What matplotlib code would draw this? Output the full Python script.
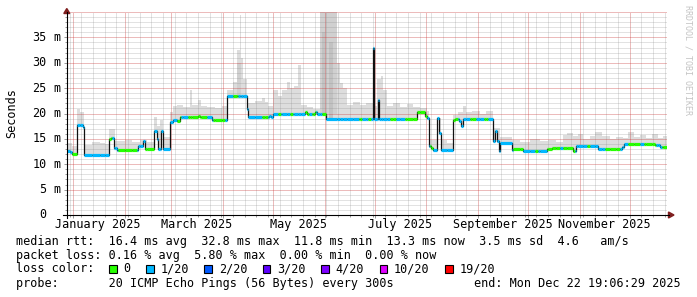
import numpy as np
import pandas as pd
import matplotlib
matplotlib.use("Agg")
import matplotlib.pyplot as plt
import matplotlib.dates as mdates
from matplotlib.ticker import MultipleLocator
from matplotlib.transforms import ScaledTranslation, blended_transform_factory
from matplotlib.patches import Polygon, Rectangle
from matplotlib.lines import Line2D

plt.rcParams['font.family'] = ['DejaVu Sans Mono']

# ---------------- data (days since 2025-01-01, values in ms) ----------------
BASE = pd.Timestamp("2025-01-01")
start_day = -3.6
span_days = 360.0

med_day = [-3.6, -1.8, -0.6, 2.2, 6.0, 6.6, 21.8, 22.8, 24.6, 26.2, 39.2, 42.2, 42.9,
           48.8, 50.2, 51.2, 52.8, 54.2, 58.2, 60.2, 62.2, 64.2, 75.2, 76.2, 83.6, 92.2,
           104.2, 105.2, 117.6, 118.8, 120.2, 139.2, 140.4, 145.2, 146.4, 151.8, 180.0,
           180.6, 183.0, 183.6, 206.2, 211.2, 212.4, 213.6, 214.5, 216.0, 218.4, 219.6,
           220.8, 228.2, 229.2, 231.6, 233.1, 234.0, 251.8, 253.2, 254.4, 255.4, 255.9,
           263.2, 264.0, 270.0, 284.4, 287.4, 300.0, 301.5, 315.0, 329.4, 330.6, 349.2, 352.2]
med_ms = [12.7, 12.4, 12.0, 17.7, 17.3, 11.9, 14.9, 15.2, 13.2, 12.75, 13.5, 14.5, 13.1,
          16.5, 15.0, 13.1, 16.5, 13.1, 18.3, 18.8, 18.5, 19.4, 19.6, 19.4, 18.7, 23.5,
          20.8, 19.4, 19.6, 19.4, 20.0, 20.2, 20.0, 20.3, 20.0, 19.0, 32.9,
          19.0, 22.6, 19.0, 20.3, 19.6, 19.1, 13.5, 13.2, 12.75, 19.2, 16.2,
          12.9, 18.8, 19.0, 18.5, 17.6, 18.9, 14.5, 16.5, 14.5, 12.6, 14.1,
          12.9, 13.0, 12.7, 13.0, 13.2, 12.6, 13.5, 13.0, 13.4, 14.0, 13.8, 13.4]

smoke_day = [-3.6, -0.6, 2.2, 4.2, 6.6, 11.4, 16.2, 19.2, 21.8, 25.2, 31.2, 35.4, 40.2,
             44.4, 48.8, 50.4, 52.2, 54.2, 58.2, 60.0, 62.4, 66.0, 70.2, 71.4, 75.0, 76.8,
             80.4, 85.2, 89.4, 92.2, 96.0, 98.4, 99.9, 100.8, 102.0, 104.2, 109.2, 113.4,
             115.2, 117.0, 120.2, 123.0, 125.4, 128.4, 130.2, 132.6, 135.0, 136.8, 140.4,
             144.0, 148.2, 158.4, 160.2, 162.0, 164.4, 168.0, 172.2, 175.8, 180.0, 180.6,
             182.4, 184.8, 186.0, 188.4, 192.0, 196.2, 200.4, 204.0, 208.2, 212.4, 213.6,
             218.4, 220.8, 224.4, 228.2, 231.0, 234.0, 235.8, 239.4, 244.2, 247.8, 251.8,
             255.9, 263.4, 268.2, 274.2, 280.2, 285.0, 289.8, 294.0, 296.4, 300.0, 303.0,
             306.0, 310.2, 313.2, 317.4, 322.2, 325.8, 330.0, 333.0, 336.6, 340.2, 343.8,
             347.4, 351.0, 354.0]
smoke_ms = [14.1, 13.6, 20.8, 20.3, 13.8, 14.3, 14.2, 14.0, 17.0, 14.5, 14.8, 14.3, 14.7,
            14.4, 19.4, 17.5, 18.8, 15.3, 20.3, 21.4, 21.7, 21.3, 24.7, 21.6, 22.7, 21.5,
            21.3, 21.0, 21.4, 24.7, 26.3, 32.6, 39.5, 31.0, 26.7, 22.1, 22.4, 23.1,
            22.2, 21.5, 24.7, 23.5, 24.7, 26.3, 25.0, 25.5, 29.6, 21.6, 21.3,
            20.8, 41.0, 30.0, 26.0, 25.0, 21.6, 22.3, 21.6, 22.1, 33.2, 21.5,
            26.7, 27.3, 24.7, 21.4, 22.0, 21.2, 21.8, 21.3, 21.0, 20.5, 14.7,
            19.2, 14.8, 14.2, 19.8, 20.2, 21.4, 20.2, 20.4, 20.0, 20.4, 17.2,
            15.3, 14.8, 14.4, 14.9, 14.5, 14.8, 14.4, 15.7, 16.2, 15.5, 16.0,
            15.0, 15.6, 16.3, 15.6, 15.0, 15.4, 15.2, 16.3, 15.3, 15.8, 15.2,
            16.0, 15.2, 15.6]

# denser smoke (more pings at high rtt)
dense_start = [98.4, 148.2]
dense_end = [100.8, 158.4]
dense_top = [30.0, 41.0]
dark_start = [149.4, 153.6]
dark_end = [151.2, 156.0]
dark_top = [36.0, 34.0]

# loss level per period (index into loss_labels)
loss_day = [-3.6, -0.6, 2.4, 21.6, 23.4, 27.0, 38.4, 43.2, 48.6, 62.4, 64.8, 69.0, 80.4,
            84.0, 91.2, 96.0, 99.0, 113.4, 117.0, 123.0, 124.8, 130.2, 132.0, 139.2,
            141.6, 143.4, 145.8, 149.4, 151.8, 171.6, 173.4, 177.0, 178.8, 190.2, 193.8,
            199.2, 212.4, 214.2, 216.0, 228.0, 231.0, 238.2, 241.8, 246.6, 249.0, 264.0,
            270.0, 277.2, 279.0, 284.4, 292.2, 294.0, 301.2, 308.4, 310.2, 319.2, 328.2,
            333.0, 340.2, 342.6, 349.8, 353.4]
loss_level = [1, 0, 1, 0, 1, 0, 1, 0, 1, 0, 1, 0, 1,
              0, 1, 0, 1, 0, 1, 0, 1, 0, 1, 0,
              1, 0, 1, 0, 1, 0, 1, 0, 1, 0, 1,
              0, 1, 0, 1, 0, 1, 0, 1, 0, 1, 0,
              1, 0, 1, 0, 1, 0, 1, 0, 1, 0, 1,
              0, 1, 0, 1, 0]

loss_labels = ["0", "1/20", "2/20", "3/20", "4/20", "10/20", "19/20"]
loss_colors = ["#26ff00", "#00b8ff", "#0059ff", "#5e00ff", "#7e00ff", "#dd00ff", "#ff0000"]

ytick_vals = [0, 5, 10, 15, 20, 25, 30, 35]
ytick_unit = ["", "m", "m", "m", "m", "m", "m", "m"]
xlabel_months = [1, 3, 5, 7, 9, 11]
xlabel_text = ["January 2025", "March 2025", "May 2025", "July 2025",
               "September 2025", "November 2025"]

rtt_vals = [16.4, 32.8, 11.8, 13.3, 3.5]
rtt_names = ["avg", "max", "min", "now", "sd"]
am_s = 4.6
loss_vals = [0.16, 5.80, 0.00, 0.00]
loss_names = ["avg", "max", "min", "now"]
probe_text = "20 ICMP Echo Pings (56 Bytes) every 300s"
end_text = "end: Mon Dec 22 19:06:29 2025"

# ---------------- helpers ----------------
def to_num(days):
    d = BASE + pd.to_timedelta(np.asarray(days, dtype=float), unit="D")
    return mdates.date2num(d.to_pydatetime())

def step_eval(bp, vals, at):
    idx = np.searchsorted(np.asarray(bp), at, side="right") - 1
    return np.asarray(vals, dtype=float)[np.clip(idx, 0, None)]

W, H = 697, 297
fig = plt.figure(figsize=(W / 100, H / 100), dpi=100)
fig.patch.set_facecolor("white")
L, R, T, B = 67, 667, 12, 215
ax = fig.add_axes([L / W, (H - B) / H, (R - L) / W, (B - T) / H])
ax.set_facecolor("white")

end_day = start_day + span_days
ax.set_xlim(to_num([start_day])[0], to_num([end_day])[0])
ax.set_ylim(0, 40)

grid_days = np.unique(np.concatenate([med_day, smoke_day, loss_day, [end_day]]))
grid_days = grid_days[(grid_days >= start_day) & (grid_days <= end_day)]
gx = to_num(grid_days)
med_g = step_eval(med_day, med_ms, grid_days)
smoke_g = np.maximum(step_eval(smoke_day, smoke_ms, grid_days), med_g)
loss_g = step_eval(loss_day, loss_level, grid_days).astype(int)

# smoke
ax.fill_between(gx, med_g - 0.25, smoke_g, step="post", color="#dddddd", lw=0, zorder=1)
for s, e, t in zip(dense_start, dense_end, dense_top):
    m = step_eval(med_day, med_ms, [s])[0]
    ax.fill_between(to_num([s, e]), [m, m], [t, t], color="#d0d0d0", lw=0, zorder=1.1)
for s, e, t in zip(dark_start, dark_end, dark_top):
    m = step_eval(med_day, med_ms, [s])[0]
    ax.fill_between(to_num([s, e]), [m, m], [t, t], color="#c2c2c2", lw=0, zorder=1.2)

# median: thin dark line then loss coloured thick line
ax.step(gx, med_g, where="post", color="#111111", lw=0.9, zorder=2)
cols = [loss_colors[k] for k in loss_g[:-1]]
ax.hlines(med_g[:-1], gx[:-1], gx[1:], colors=cols, lw=2.3, zorder=3)

# grid
ax.xaxis.set_major_locator(mdates.MonthLocator())
ax.xaxis.set_minor_locator(mdates.WeekdayLocator(byweekday=mdates.MO))
ax.yaxis.set_major_locator(MultipleLocator(5))
ax.yaxis.set_minor_locator(MultipleLocator(1))
ax.set_axisbelow("line")
ax.grid(which="minor", color="#8c8c8c", alpha=0.25, lw=0.72, linestyle=(0, (1, 1)),
        antialiased=False)
ax.grid(which="major", color="#c83232", alpha=0.33, lw=0.72, linestyle=(0, (1, 1)),
        antialiased=False)
ax.tick_params(which="both", labelleft=False, labelbottom=False, direction="out",
               color="#999999", width=0.7)
ax.tick_params(which="major", length=2.5)
ax.tick_params(which="minor", length=1.5)
for sp in ax.spines.values():
    sp.set_visible(False)

# axis lines and arrows
fig.add_artist(Line2D([63 / W, 669 / W], [(H - B) / H] * 2, color="black", lw=0.8))
fig.add_artist(Line2D([L / W] * 2, [(H - 218) / H, (H - 12) / H], color="black", lw=0.8))
arrow_c = "#7f1f1f"
fig.add_artist(Polygon([[66.8 / W, (H - 8.5) / H], [63.8 / W, (H - 13.5) / H],
                        [69.8 / W, (H - 13.5) / H]], closed=True, color=arrow_c,
                       transform=fig.transFigure))
fig.add_artist(Polygon([[674 / W, (H - B) / H], [668.5 / W, (H - 212) / H],
                        [668.5 / W, (H - 218) / H]], closed=True, color=arrow_c,
                       transform=fig.transFigure))

FS = 8.5
# y tick labels
ytr = ax.get_yaxis_transform()
for v, u in zip(ytick_vals, ytick_unit):
    ax.text(0, v, f"{v}", transform=ytr + ScaledTranslation(-20.5 / 100, 0, fig.dpi_scale_trans),
            ha="right", va="center", fontsize=FS)
    if u:
        ax.text(0, v, u, transform=ytr + ScaledTranslation(-6.5 / 100, 0, fig.dpi_scale_trans),
                ha="right", va="center", fontsize=FS)

# x labels (centred mid-month)
xtr = blended_transform_factory(ax.transData, ax.transAxes)
for mth, txt in zip(xlabel_months, xlabel_text):
    xd = mdates.date2num(pd.Timestamp(2025, mth, 16).to_pydatetime())
    ax.text(xd, 0, txt, transform=xtr + ScaledTranslation(0, -9.5 / 100, fig.dpi_scale_trans),
            ha="center", va="center", fontsize=FS)

fig.text(12 / W, 1 - 113 / H, "Seconds", rotation=90, ha="center", va="center", fontsize=FS)
fig.text(688 / W, 1 - 5 / H, "RRDTOOL / TOBI OETIKER", rotation=270, ha="center", va="top",
         fontsize=6.0, color="#c4c4c4")

# legend
def ft(x, y, s, **kw):
    fig.text(x / W, 1 - y / H, s, va="center", fontsize=FS, **kw)

row1 = "median rtt:  " + "  ".join(f"{v:.1f} ms {n}" for v, n in zip(rtt_vals, rtt_names)) \
       + f"  {am_s:.1f}   am/s"
row2 = "packet loss: " + "  ".join(f"{v:.2f} % {n}" for v, n in zip(loss_vals, loss_names))
ft(16, 241.3, row1)
ft(16, 255.3, row2)
ft(16, 268.7, "loss color:")
bx = 109.0
for lab, col in zip(loss_labels, loss_colors):
    fig.add_artist(Rectangle((bx / W, 1 - 273 / H), 7.5 / W, 8.5 / H, transform=fig.transFigure,
                             facecolor=col, edgecolor="black", lw=0.8))
    ft(bx + 14.5, 268.7, lab)
    bx += 29.9 + 7.12 * len(lab)
ft(16, 283.7, "probe:       " + probe_text)
fig.text(681 / W, 1 - 283.7 / H, end_text, ha="right", va="center", fontsize=FS)

fig.savefig("out.png", dpi=100)
